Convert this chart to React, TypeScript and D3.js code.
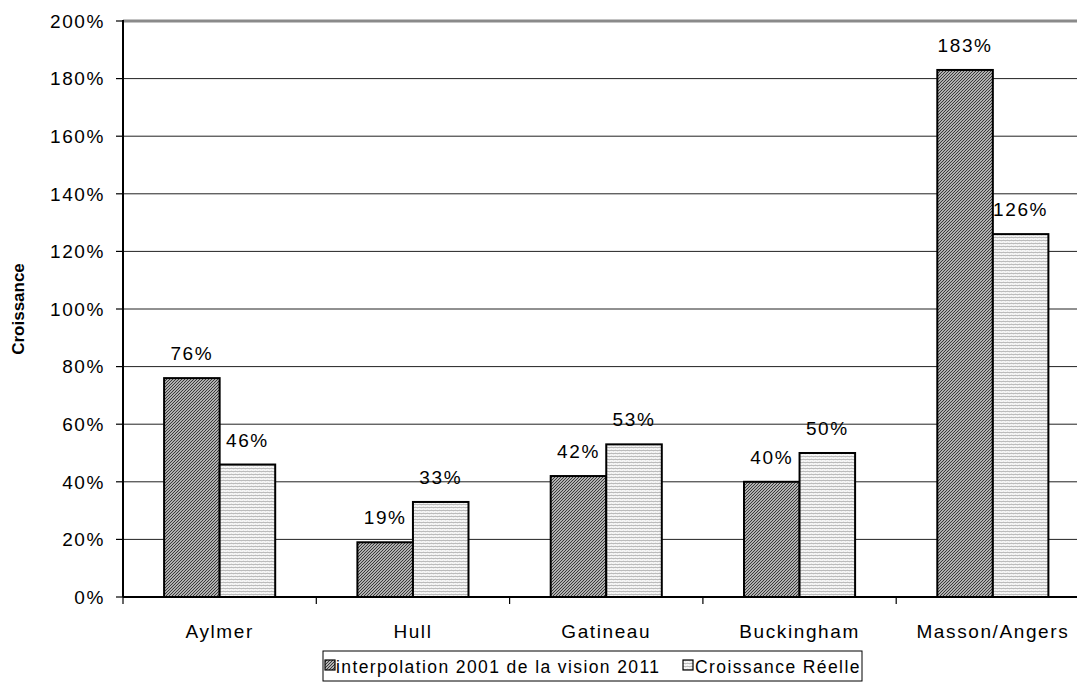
import React from "react";
import * as d3 from "d3";

const categories = ["Aylmer", "Hull", "Gatineau", "Buckingham", "Masson/Angers"];
const seriesNames = ["interpolation 2001 de la vision 2011", "Croissance Réelle"];
const interpolationValues = [0.76, 0.19, 0.42, 0.40, 1.83];
const reelleValues = [0.46, 0.33, 0.53, 0.50, 1.26];
const yTicks = [0, 0.2, 0.4, 0.6, 0.8, 1.0, 1.2, 1.4, 1.6, 1.8, 2.0];
const yTitle = "Croissance";

const W = 1077;
const H = 686;
const FONT = "'Liberation Sans', Arial, sans-serif";
const FS = 19;
const LS = 1.6;

export default function App() {
  const left = 123;
  const bottom = 597;
  const top = 21;
  const step = 193.3;

  const x = d3.scaleBand<string>().domain(categories).range([left, left + step * categories.length]).padding(0);
  const inner = d3.scaleBand<string>().domain(seriesNames).range([0, x.bandwidth()]).paddingInner(0).paddingOuter(0.74);
  const y = d3.scaleLinear().domain([0, 2]).range([bottom, top]);
  const fmt = d3.format(".0%");

  const series = [
    { name: seriesNames[0], values: interpolationValues, fill: "url(#hatchDark)" },
    { name: seriesNames[1], values: reelleValues, fill: "url(#hatchLight)" },
  ];

  const legendX = 323;
  const legendY = 651;

  return (
    <svg width={W} height={H} style={{ position: "absolute", left: 0, top: 0, background: "#fff" }}>
      <defs>
        <pattern id="hatchDark" patternUnits="userSpaceOnUse" width="3" height="3">
          <rect width="3" height="3" fill="#e8e8e8" />
          <path d="M-0.5,0.5 l1,-1 M0,3 l3,-3 M2.5,3.5 l1,-1" stroke="#333" strokeWidth="1.2" />
        </pattern>
        <pattern id="hatchLight" patternUnits="userSpaceOnUse" width="4" height="3">
          <rect width="4" height="3" fill="#f6f6f6" />
          <rect y="0" width="4" height="1" fill="#bcbcbc" />
          <rect x="1" y="1" width="1" height="1" fill="#e6e6e6" />
          <rect x="3" y="2" width="1" height="1" fill="#e6e6e6" />
        </pattern>
      </defs>

      {/* horizontal gridlines */}
      {yTicks.slice(1).map((t) => (
        <line
          key={t}
          x1={left}
          x2={W + 20}
          y1={y(t)}
          y2={y(t)}
          stroke={t === 2 ? "#8a8a8a" : "#222"}
          strokeWidth={t === 2 ? 3 : 1}
        />
      ))}

      {/* y axis */}
      <line x1={left} x2={left} y1={top - 1} y2={bottom} stroke="#000" strokeWidth={2} />
      {yTicks.map((t) => (
        <g key={"yt" + t}>
          <line x1={left - 7} x2={left} y1={y(t)} y2={y(t)} stroke="#000" strokeWidth={1.2} />
          <text
            x={105}
            y={y(t)}
            dy="0.36em"
            textAnchor="end"
            fontFamily={FONT}
            fontSize={FS}
            letterSpacing={LS}
            fill="#000"
          >
            {fmt(t)}
          </text>
        </g>
      ))}

      <text
        transform={`translate(24,${(top + bottom) / 2}) rotate(-90)`}
        textAnchor="middle"
        fontFamily={FONT}
        fontWeight="bold"
        fontSize={17}
        fill="#000"
      >
        {yTitle}
      </text>

      {/* bars */}
      {series.map((s) =>
        categories.map((c, i) => {
          const bx = (x(c) as number) + (inner(s.name) as number);
          const bw = inner.bandwidth();
          const v = s.values[i];
          return (
            <g key={s.name + c}>
              <rect
                x={bx}
                y={y(v)}
                width={bw}
                height={bottom - y(v)}
                fill={s.fill}
                stroke="#000"
                strokeWidth={2}
              />
              <text
                x={bx + bw / 2}
                y={y(v) - 18}
                textAnchor="middle"
                fontFamily={FONT}
                fontSize={FS}
                letterSpacing={LS}
                fill="#000"
              >
                {fmt(v)}
              </text>
            </g>
          );
        })
      )}

      {/* x axis */}
      <line x1={left} x2={W + 20} y1={bottom} y2={bottom} stroke="#000" strokeWidth={2} />
      {d3.range(categories.length + 1).map((k) => (
        <line
          key={"xt" + k}
          x1={left + k * x.step()}
          x2={left + k * x.step()}
          y1={bottom}
          y2={bottom + 7}
          stroke="#000"
          strokeWidth={1.2}
        />
      ))}
      {categories.map((c) => (
        <text
          key={"xl" + c}
          x={(x(c) as number) + x.bandwidth() / 2}
          y={638}
          textAnchor="middle"
          fontFamily={FONT}
          fontSize={FS}
          letterSpacing={LS}
          fill="#000"
        >
          {c}
        </text>
      ))}

      {/* legend */}
      <rect x={legendX} y={legendY} width={539} height={30} fill="#fff" stroke="#000" strokeWidth={1} />
      <rect x={325} y={660} width={10} height={10} fill="url(#hatchDark)" stroke="#000" strokeWidth={1.2} />
      <text x={336} y={673} fontFamily={FONT} fontSize={17.5} letterSpacing={1.4} fill="#000">
        {seriesNames[0]}
      </text>
      <rect x={683} y={660} width={10} height={10} fill="url(#hatchLight)" stroke="#000" strokeWidth={1.2} />
      <text x={695} y={673} fontFamily={FONT} fontSize={17.5} letterSpacing={1.4} fill="#000">
        {seriesNames[1]}
      </text>
    </svg>
  );
}
